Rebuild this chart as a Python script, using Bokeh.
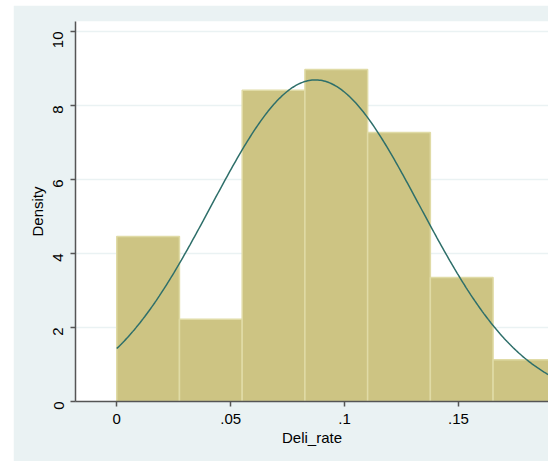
import numpy as np
from bokeh.plotting import figure
from bokeh.models import Range1d, FixedTicker, ColumnDataSource
from bokeh.embed import file_html
from bokeh.resources import INLINE

# Data
bin_start = 0.0
bin_width = 0.02753
density = [4.46, 2.22, 8.41, 8.97, 7.27, 3.35, 1.13]
norm_mean = 0.0872
norm_sd = 0.0459
data_min = 0.0
data_max = 0.1927
x_ticks = [0, 0.05, 0.1, 0.15]
x_tick_labels = {0: "0", 0.05: ".05", 0.1: ".1", 0.15: ".15"}
y_ticks = [0, 2, 4, 6, 8, 10]

BG = "#eaf2f3"
FONT = "Liberation Sans"

p = figure(width=535, height=456, output_backend="svg", toolbar_location=None,
           x_range=Range1d(-0.0181, 0.1895), y_range=Range1d(0, 10.27),
           min_border_left=62, min_border_right=0, min_border_top=16, min_border_bottom=60)
p.margin = (5, 0, 0, 13)
p.border_fill_color = BG
p.background_fill_color = "white"
p.outline_line_color = None

lefts = [bin_start + i * bin_width for i in range(len(density))]
rights = [l + bin_width for l in lefts]
src = ColumnDataSource(dict(left=lefts, right=rights, top=density, bottom=[0] * len(density)))
p.quad(left="left", right="right", top="top", bottom="bottom", source=src,
       fill_color="#cdc483", line_color="#e0dba6", line_width=1.5)

xs = np.linspace(data_min, data_max, 300)
ys = np.exp(-0.5 * ((xs - norm_mean) / norm_sd) ** 2) / (norm_sd * np.sqrt(2 * np.pi))
p.line(xs, ys, line_color="#2e6f6a", line_width=1.5)

# axes
p.xgrid.grid_line_color = None
p.ygrid.grid_line_color = BG
p.ygrid.grid_line_width = 1.5
p.ygrid.level = "underlay"

p.xaxis.ticker = FixedTicker(ticks=x_ticks)
p.xaxis.major_label_overrides = x_tick_labels
p.yaxis.ticker = FixedTicker(ticks=y_ticks)
p.xaxis.minor_tick_line_color = None
p.yaxis.minor_tick_line_color = None

for ax in (p.xaxis, p.yaxis):
    ax.axis_line_color = "#555555"
    ax.axis_line_width = 1.5
    ax.major_tick_line_color = "#555555"
    ax.major_tick_line_width = 1.5
    ax.major_tick_in = 0
    ax.major_tick_out = 5
    ax.major_label_text_font = FONT
    ax.major_label_text_font_size = "15px"
    ax.major_label_text_color = "black"
    ax.axis_label_text_font = FONT
    ax.axis_label_text_font_size = "15px"
    ax.axis_label_text_font_style = "normal"
    ax.axis_label_text_color = "black"

p.xaxis.axis_label = "Deli_rate"
p.yaxis.axis_label = "Density"
p.yaxis.major_label_orientation = np.pi / 2
p.xaxis.major_label_standoff = 7
p.yaxis.major_label_standoff = 12
p.xaxis.axis_label_standoff = 2
p.yaxis.axis_label_standoff = 0

html = file_html(p, INLINE)
html = html.replace("<body>", '<body style="margin:0;">')
open("out.html", "w").write(html)
